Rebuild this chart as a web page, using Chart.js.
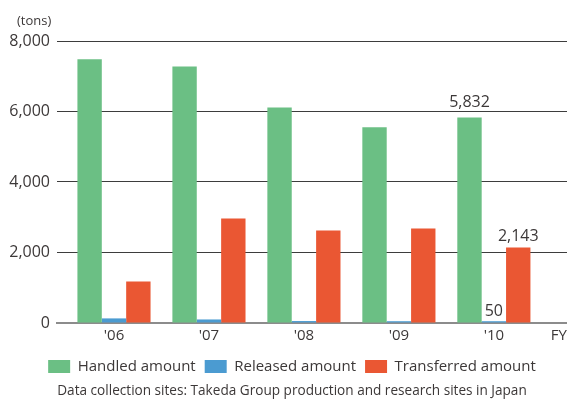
<!DOCTYPE html>
<html>
<head>
<meta charset="utf-8">
<script src="https://cdn.jsdelivr.net/npm/chart.js@4.4.1/dist/chart.umd.min.js"></script>
<style>
  html, body { margin: 0; padding: 0; background: #fff; }
  #wrap { width: 567px; height: 399px; }
</style>
</head>
<body>
<div id="wrap"><canvas id="waste-chart" width="567" height="399"></canvas></div>
<script>
(function () {
    "use strict";

    var years = ["'06", "'07", "'08", "'09", "'10"];
    var handled = [7480, 7280, 6115, 5550, 5832];
    var released = [130, 100, 55, 50, 50];
    var transferred = [1175, 2965, 2625, 2680, 2143];
    var yTicks = [0, 2000, 4000, 6000, 8000];

    var textColor = "#3c3838";
    var font = "'Open Sans', 'Noto Sans', sans-serif";

    // bars sit on a linear x scale so the gridlines can run past the groups
    function points(values) {
        return values.map(function (v, i) { return { x: i, y: v }; });
    }

    // value labels over selected bars
    var barLabels = {
        id: "barLabels",
        afterLayout: function (chart) {
            // let the y tick labels use the left padding too (no clipping)
            chart.scales.y.left = 0;
        },
        afterDatasetsDraw: function (chart, args, opts) {
            var ctx = chart.ctx;
            ctx.save();
            ctx.fillStyle = textColor;
            ctx.font = "16px " + font;
            ctx.textAlign = "center";
            ctx.textBaseline = "middle";
            opts.items.forEach(function (item) {
                var el = chart.getDatasetMeta(item.dataset).data[item.index];
                var v = chart.data.datasets[item.dataset].data[item.index].y;
                ctx.fillText(v.toLocaleString("en-US"), el.x, el.y - item.offset);
            });
            ctx.restore();
        }
    };

    var canvas = document.getElementById("waste-chart");
    new Chart(canvas.getContext("2d"), {
        type: "bar",
        data: {
            datasets: [{
                label: "Handled amount",
                data: points(handled),
                backgroundColor: "#6bbf84"
            }, {
                label: "Released amount",
                data: points(released),
                backgroundColor: "#4b9bd1"
            }, {
                label: "Transferred amount",
                data: points(transferred),
                backgroundColor: "#ea5733"
            }]
        },
        options: {
            responsive: false,
            animation: false,
            categoryPercentage: 0.77,
            barPercentage: 1,
            layout: { padding: { left: 17, top: 0, right: 0, bottom: 0 } },
            scales: {
                x: {
                    type: "linear",
                    min: -0.6,
                    max: 4.77,
                    offset: false,
                    afterBuildTicks: function (scale) {
                        scale.ticks = years.map(function (y, i) { return { value: i }; });
                    },
                    grid: { display: false, drawTicks: false },
                    border: { display: true, color: "#8c8c8c", width: 2 },
                    ticks: {
                        padding: 4,
                        color: textColor,
                        font: { family: font, size: 15 },
                        callback: function (value) { return years[value]; }
                    },
                    title: {
                        display: true,
                        text: "FY",
                        align: "end",
                        color: textColor,
                        font: { family: font, size: 15 },
                        padding: { top: -22, bottom: 5 }
                    }
                },
                y: {
                    min: 0,
                    max: 8000,
                    afterFit: function (scale) { scale.width = 40; },
                    afterBuildTicks: function (scale) {
                        scale.ticks = yTicks.map(function (v) { return { value: v }; });
                    },
                    grid: {
                        drawTicks: false,
                        color: function (c) {
                            return c.tick && c.tick.value === 0 ? "rgba(0,0,0,0)" : "#3d3d3d";
                        },
                        lineWidth: 1
                    },
                    border: { display: false },
                    ticks: {
                        padding: 7,
                        color: textColor,
                        font: { family: font, size: 16 },
                        callback: function (value) { return value.toLocaleString("en-US"); }
                    }
                }
            },
            plugins: {
                tooltip: { enabled: false },
                title: {
                    display: true,
                    text: "(tons)",
                    align: "start",
                    color: textColor,
                    font: { family: font, size: 13, weight: "normal" },
                    padding: { top: 13, bottom: 12.4 }
                },
                subtitle: {
                    display: true,
                    position: "bottom",
                    text: "Data collection sites: Takeda Group production and research sites in Japan",
                    color: textColor,
                    font: { family: font, size: 13.6 },
                    padding: { top: -1.3, bottom: 0 }
                },
                legend: {
                    position: "bottom",
                    labels: {
                        color: textColor,
                        font: { family: font, size: 15 },
                        boxWidth: 22,
                        boxHeight: 13,
                        padding: 9
                    }
                },
                barLabels: {
                    items: [
                        { dataset: 0, index: 4, offset: 15 },
                        { dataset: 1, index: 4, offset: 10 },
                        { dataset: 2, index: 4, offset: 11 }
                    ]
                }
            }
        },
        plugins: [barLabels]
    });
})();
</script>
</body>
</html>
